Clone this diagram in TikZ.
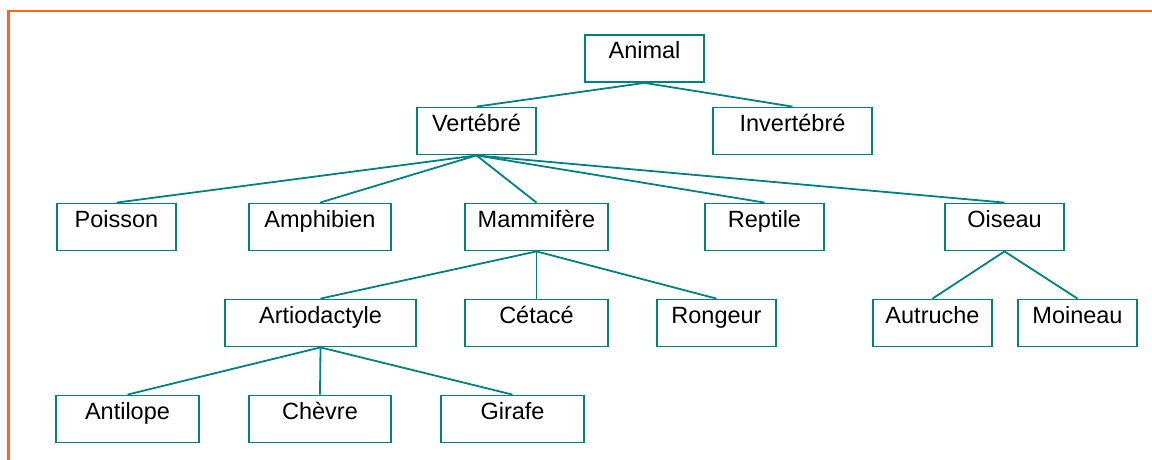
\documentclass[tikz,border=0pt]{standalone}
\usepackage{fontspec}
\setmainfont{Liberation Sans}
\usepackage{tikz}

\definecolor{frameorange}{RGB}{255,104,16}
\definecolor{treeteal}{RGB}{0,128,128}

\begin{document}
\begin{tikzpicture}[x=1pt,y=-1pt]

\tikzset{box/.style = {shape=rectangle,draw=treeteal,line width=1.8pt,inner sep=0pt,
  minimum height=47pt,text height=23.5pt,text depth=23.5pt,
  font=\fontsize{23.5}{28}\selectfont}}
\tikzset{edge/.style = {draw=treeteal,line width=1.8pt}}
\useasboundingbox (0,0) rectangle (1152,459);
%frame
\draw [frameorange, line width=2.5pt] (8.3,470) -- (8.3,11) -- (1160,11);
%boxes
\node[box, minimum width=119.5pt] (1) at (644.5,58.5) {Animal};
\node[box, minimum width=119.5pt] (2) at (476.5,131) {Vertébré};
\node[box, minimum width=159.5pt] (3) at (792.5,131) {Invertébré};
\node[box, minimum width=119.5pt] (4) at (116.5,227) {Poisson};
\node[box, minimum width=142.5pt] (5) at (320,227) {Amphibien};
\node[box, minimum width=143.5pt] (6) at (536.5,227) {Mammifère};
\node[box, minimum width=119.5pt] (7) at (764.5,227) {Reptile};
\node[box, minimum width=119.5pt] (8) at (1004.5,227) {Oiseau};
\node[box, minimum width=191.5pt] (9) at (320.5,323) {Artiodactyle};
\node[box, minimum width=143.5pt] (10) at (536.5,323) {Cétacé};
\node[box, minimum width=119.5pt] (11) at (716.5,323) {Rongeur};
\node[box, minimum width=119.5pt] (12) at (932.5,323) {Autruche};
\node[box, minimum width=119.5pt] (13) at (1077.5,323) {Moineau};
\node[box, minimum width=143.5pt] (14) at (127.5,419) {Antilope};
\node[box, minimum width=142.5pt] (15) at (320,419) {Chèvre};
\node[box, minimum width=143.5pt] (16) at (512.5,419) {Girafe};
%edges
\draw [edge] (1.south) -- (2.north);
\draw [edge] (1.south) -- (3.north);
\draw [edge] (2.south) -- (4.north);
\draw [edge] (2.south) -- (5.north);
\draw [edge] (2.south) -- (6.north);
\draw [edge] (2.south) -- (7.north);
\draw [edge] (2.south) -- (8.north);
\draw [edge] (6.south) -- (9.north);
\draw [edge] (6.south) -- (10.north);
\draw [edge] (6.south) -- (11.north);
\draw [edge] (8.south) -- (12.north);
\draw [edge] (8.south) -- (13.north);
\draw [edge] (9.south) -- (14.north);
\draw [edge] (9.south) -- (15.north);
\draw [edge] (9.south) -- (16.north);

\end{tikzpicture}
\end{document}
